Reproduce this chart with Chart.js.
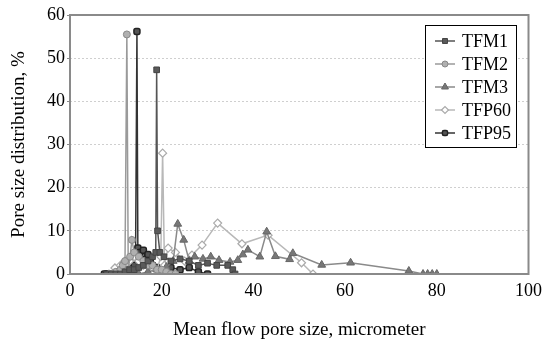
<!DOCTYPE html>
<html>
<head>
<title>Pore size distribution</title>
<script src="https://cdn.jsdelivr.net/npm/chart.js"></script>
<style>
  body{ margin:0; background:#fff; }
  #wrap{ width:544px; height:341px; }
</style>
</head>
<body>
<div id="wrap"><canvas id="myChart" width="544" height="341"></canvas></div>
<script>
// data (x = mean flow pore size, y = %)
const tfm1X = [8, 9, 10, 11, 12, 13, 14, 15, 16, 17, 18, 18.7, 18.9, 19.1, 19.6, 20.5, 22, 24, 26, 28, 30, 32, 34.4, 35.5, 36];
const tfm1Y = [0, 0, 0, 0, 0.5, 1, 1, 1.5, 2, 3, 4, 5, 47.3, 10, 5, 4, 3, 3.5, 3, 2, 2.5, 2, 2, 1, 0];

const tfm2X = [9, 10, 11, 11.5, 12, 12.4, 12.7, 13.1, 13.5, 14, 15, 16, 17, 18, 19, 20, 21, 22, 23];
const tfm2Y = [0, 0.5, 1, 2, 3, 55.5, 1, 4, 7.9, 5, 4, 3, 2, 2, 1, 1, 0.5, 0, 0];

const tfm3X = [15, 17, 19, 21, 22.5, 23.5, 24.8, 26, 27.2, 29, 30.7, 32.5, 34.9, 36.6, 37.7, 38.8, 41.4, 42.9, 44.8, 47.9, 48.6, 54.9, 61.2, 73.9, 77, 78, 79, 80];
const tfm3Y = [0, 0.5, 1, 1.6, 3, 11.6, 7.9, 3, 4, 3.5, 4, 3.2, 2.8, 3.2, 4.5, 5.6, 4, 9.8, 4.1, 3.4, 4.8, 2.1, 2.6, 0.7, 0, 0, 0, 0];

const tfp60X = [8.5, 9.8, 11, 12, 13, 14, 15, 16, 17, 18, 19, 19.8, 20.2, 20.6, 21.4, 23, 25, 26.6, 28.8, 32.2, 37.5, 43.2, 50.5, 53];
const tfp60Y = [0, 1.4, 2, 3, 3, 4, 3, 2, 2, 1.5, 1, 4, 28, 2, 6, 5, 3, 4.4, 6.7, 11.8, 7, 9, 2.6, 0];

const tfp95X = [7.5, 8, 8.5, 9, 9.5, 10, 10.5, 11, 11.5, 12, 12.5, 13, 13.5, 14, 14.3, 14.6, 14.8, 15.2, 15.6, 16, 16.5, 17, 17.5, 18, 19, 20, 21, 22, 24, 26, 28, 30];
const tfp95Y = [0, 0, 0, 0, 0, 0, 0, 0, 0.5, 0.5, 1, 1, 1.5, 2, 4, 56.2, 6, 5, 3, 5.5, 3.5, 4.5, 3, 2, 1.5, 1, 1, 1.5, 1, 1.5, 0.5, 0];

const seriesNames = ['TFM1', 'TFM2', 'TFM3', 'TFP60', 'TFP95'];
const xTicks = [0, 20, 40, 60, 80, 100];
const yTicks = [0, 10, 20, 30, 40, 50, 60];

function pts(xs, ys){
  return xs.map((x, i) => ({x: x, y: ys[i]}));
}

const serif = "'Liberation Serif', 'Times New Roman', serif";

// legend box + plot frame, drawn after the datasets
const framePlugin = {
  id: 'frame',
  afterDraw(chart){
    const c = chart.ctx, a = chart.chartArea;
    c.save();
    c.strokeStyle = '#8a8a8a';
    c.lineWidth = 2;
    c.strokeRect(a.left, a.top, a.right - a.left, a.bottom - a.top);

    // legend
    const bx = 425.5, by = 25.5, bw = 91, bh = 122;
    c.fillStyle = '#fff';
    c.fillRect(bx, by, bw, bh);
    c.strokeStyle = '#000';
    c.lineWidth = 1;
    c.strokeRect(bx, by, bw, bh);
    chart.data.datasets.forEach((ds, i) => {
      const y = 41 + i * 23;
      c.strokeStyle = ds.borderColor;
      c.lineWidth = 1.5;
      c.beginPath(); c.moveTo(435, y); c.lineTo(455, y); c.stroke();
      c.fillStyle = ds.pointBackgroundColor;
      c.strokeStyle = ds.pointBorderColor;
      c.lineWidth = ds.pointBorderWidth;
      Chart.helpers.drawPoint(c, {
        pointStyle: ds.pointStyle, radius: ds.pointRadius - 0.5, rotation: 0,
        borderWidth: ds.pointBorderWidth
      }, 445, y);
      c.fillStyle = '#000';
      c.font = '18px ' + serif;
      c.textBaseline = 'middle';
      c.fillText(ds.label, 462, y + 1);
    });
    c.restore();
  }
};

const datasets = [
  { label: seriesNames[0], data: pts(tfm1X, tfm1Y), borderColor: '#555', backgroundColor: '#555',
    pointStyle: 'rect', pointRadius: 4, pointBackgroundColor: '#5a5a5a', pointBorderColor: '#444', pointBorderWidth: 1 },
  { label: seriesNames[1], data: pts(tfm2X, tfm2Y), borderColor: '#9a9a9a', backgroundColor: '#aaa',
    pointStyle: 'circle', pointRadius: 3.5, pointBackgroundColor: '#b0b0b0', pointBorderColor: '#888', pointBorderWidth: 1 },
  { label: seriesNames[2], data: pts(tfm3X, tfm3Y), borderColor: '#8a8a8a', backgroundColor: '#777',
    pointStyle: 'triangle', pointRadius: 4.5, pointBackgroundColor: '#777', pointBorderColor: '#666', pointBorderWidth: 1 },
  { label: seriesNames[3], data: pts(tfp60X, tfp60Y), borderColor: '#b8b8b8', backgroundColor: '#fff',
    pointStyle: 'rectRot', pointRadius: 4, pointBackgroundColor: '#fff', pointBorderColor: '#aaa', pointBorderWidth: 1.2 },
  { label: seriesNames[4], data: pts(tfp95X, tfp95Y), borderColor: '#333', backgroundColor: '#333',
    pointStyle: 'rectRounded', pointRadius: 3.5, pointBackgroundColor: '#555', pointBorderColor: '#222', pointBorderWidth: 1.5 }
];
datasets.forEach(d => { d.borderWidth = 1.5; d.showLine = true; d.tension = 0; });

new Chart(document.getElementById('myChart'), {
  type: 'scatter',
  data: { datasets: datasets },
  options: {
    responsive: false,
    animation: false,
    layout: { padding: { top: 15, right: 15, left: 0, bottom: 0 } },
    plugins: { legend: { display: false }, tooltip: { enabled: false } },
    scales: {
      x: {
        type: 'linear', min: 0, max: 100,
        afterBuildTicks: s => { s.ticks = xTicks.map(v => ({value: v})); },
        afterFit: s => { s.height = 67; },
        grid: { display: false, drawTicks: true, tickLength: 4 },
        border: { display: false },
        ticks: { color: '#000', font: { family: serif, size: 18 }, padding: 2, maxRotation: 0 },
        title: { display: true, text: 'Mean flow pore size, micrometer', color: '#000',
                 font: { family: serif, size: 19 }, padding: { top: 10, bottom: 0 } }
      },
      y: {
        min: 0, max: 60,
        afterBuildTicks: s => { s.ticks = yTicks.map(v => ({value: v})); },
        afterFit: s => { s.width = 70; },
        grid: { color: '#cfcfcf', tickLength: 3, drawTicks: true, tickColor: '#8a8a8a' },
        border: { display: false, dash: [2, 2] },
        ticks: { color: '#000', font: { family: serif, size: 18 }, padding: 2 },
        title: { display: true, text: 'Pore size distribution, %', color: '#000',
                 font: { family: serif, size: 19 }, padding: { top: 8, bottom: 0 } }
      }
    }
  },
  plugins: [framePlugin]
});
</script>
</body>
</html>
